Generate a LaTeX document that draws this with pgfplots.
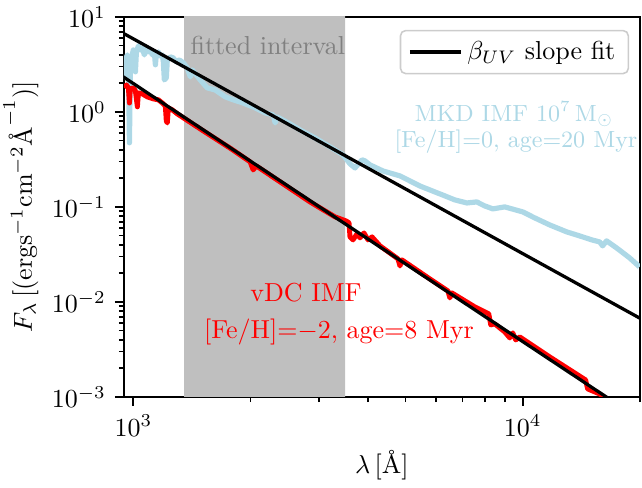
\documentclass[border=0pt]{standalone}
\usepackage{pgfplots}
\pgfplotsset{compat=1.18}
\definecolor{lightblue}{RGB}{173,216,230}

% Model spectra (wavelength in Angstrom, flux)
\pgfplotstableread{
lam F
950 2.20
954 3.53
965 3.98
971 3.36
977 0.472
982 2.64
988 3.70
1000 4.49
1012 2.64
1018 4.28
1030 4.95
1042 4.49
1054 4.72
1067 3.98
1080 4.72
1093 4.28
1105 4.49
1119 3.98
1132 4.28
1139 3.13
1145 3.98
1159 4.28
1173 3.89
1187 3.98
1194 3.36
1201 2.17
1215 2.28
1222 3.53
1244 3.79
1266 3.70
1289 3.36
1312 3.53
1344 3.28
1375 2.91
1400 2.34
1417 2.77
1485 2.17
1548 1.79
1623 1.70
1722 1.44
1805 1.34
1914 1.24
2056 1.102
2180 0.976
2286 0.930
2313 0.766
2340 0.886
2526 0.748
2680 0.646
2929 0.532
3201 0.428
3455 0.353
3601 0.284
3709 0.257
3866 0.313
3935 0.305
4052 0.277
4375 0.239
4838 0.212
5444 0.166
6127 0.137
6694 0.1185
7186 0.110
7622 0.1128
7990 0.1024
8378 0.0953
8990 0.100
10000 0.0886
10735 0.0766
11728 0.0646
12968 0.0546
14003 0.0495
15029 0.0450
15756 0.0428
16038 0.0389
16419 0.0439
17418 0.0370
18810 0.0291
19953 0.0234
}\mkdspec

\pgfplotstableread{
lam F
948 1.79
960 1.924
971 1.79
977 1.24
982 1.747
1000 1.79
1012 1.665
1024 1.13
1030 1.585
1054 1.547
1086 1.44
1125 1.37
1159 1.34
1187 1.24
1208 1.157
1215 0.804
1222 0.766
1230 1.102
1259 1.050
1297 0.953
1485 0.662
1784 0.408
1995 0.298
2031 0.245
2068 0.270
2382 0.1833
2843 0.1128
3296 0.0785
3518 0.0712
3580 0.0679
3601 0.0483
3666 0.0450
3754 0.0520
3820 0.0472
3911 0.0532
4005 0.0450
4101 0.0483
4300 0.0389
4780 0.0284
4838 0.0239
4894 0.0277
5773 0.01746
6424 0.01305
6499 0.01102
6577 0.01244
7534 0.00886
8181 0.00748
8278 0.00573
8476 0.00587
8990 0.00483
9262 0.00418
9427 0.00472
9596 0.00398
9825 0.00428
11728 0.002637
14504 0.001509
14678 0.001214
15756 0.001075
16713 0.000908
}\vdcspec

\begin{document}
\begin{tikzpicture}
\begin{axis}[
  scale only axis,
  width=198.5pt, height=146.2pt,
  xmode=log, ymode=log,
  xmin=946, xmax=20000, ymin=1e-3, ymax=10,
  axis line style={line width=0.8pt},
  tick style={line width=0.7pt, black},
  major tick length=3.5pt, minor tick length=2pt,
  tick align=outside, xtick pos=bottom, ytick pos=left,
  xtick={1000,10000},
  minor xtick={2000,3000,4000,5000,6000,7000,8000,9000,20000},
  ytick={1e-3,1e-2,1e-1,1,10},
  minor ytick={2e-3,3e-3,4e-3,5e-3,6e-3,7e-3,8e-3,9e-3,
               2e-2,3e-2,4e-2,5e-2,6e-2,7e-2,8e-2,9e-2,
               0.2,0.3,0.4,0.5,0.6,0.7,0.8,0.9,2,3,4,5,6,7,8,9},
  xlabel={$\lambda\,[\mbox{\AA}]$},
  ylabel={$F_\lambda\,[(\mathrm{ergs^{-1}cm^{-2}}\mbox{\AA}^{-1})]$},
  every axis x label/.style={at={(rel axis cs:0.5,0)}, yshift=-20.4pt, anchor=north, inner sep=0pt},
  every axis y label/.style={at={(rel axis cs:0,0.5)}, xshift=-32.7pt, rotate=90, anchor=south, inner sep=0pt},
  legend style={at={(rel axis cs:0.979,0.966)}, anchor=north east,
    draw=black!20, rounded corners=2pt, fill=white, fill opacity=0.8,
    text opacity=1, line width=0.6pt, inner xsep=3pt, inner ysep=2pt},
  legend cell align=left,
  legend image code/.code={\draw[#1] (0pt,0pt) -- (19.5pt,0pt);},
]
% fitting window
\addplot[draw=none, fill=black!25, forget plot]
  coordinates {(1350,1e-4) (3500,1e-4) (3500,100) (1350,100) (1350,1e-4)};

\addplot[lightblue, line width=2pt, line join=round, forget plot] table[x=lam, y=F] {\mkdspec};
\addplot[red, line width=1.9pt, line join=round, forget plot] table[x=lam, y=F] {\vdcspec};

% power-law fits
\addplot[black, line width=1.25pt] coordinates {(900,7.45) (20000,0.00673)};
\addlegendentry{$\beta_{UV}$ slope fit}
\addplot[black, line width=1.25pt, forget plot] coordinates {(900,2.647) (20000,0.000582)};

\node[anchor=base west, inner sep=0pt, text=black!50] at (rel axis cs:0.128,0.9) {fitted interval};
\node[anchor=base, inner sep=0pt, text=lightblue, font=\fontsize{9}{11}\selectfont]
  at (rel axis cs:0.7558,0.7237) {MKD IMF $10^7\,\mathrm{M}_\odot$};
\node[anchor=base, inner sep=0pt, text=lightblue, font=\fontsize{9}{11}\selectfont]
  at (rel axis cs:0.7597,0.6553) {[Fe/H]=0, age=20 Myr};
\node[anchor=base, inner sep=0pt, text=red] at (rel axis cs:0.3527,0.25) {vDC IMF};
\node[anchor=base, inner sep=0pt, text=red] at (rel axis cs:0.4167,0.1526) {[Fe/H]=$-2$, age=8 Myr};

\coordinate (bl) at (rel axis cs:0,0);
\coordinate (tr) at (rel axis cs:1,1);
\end{axis}
\pgfresetboundingbox
\path[use as bounding box] ([shift={(-47.7pt,-35pt)}]bl) rectangle ([shift={(0.8pt,6.5pt)}]tr);
\end{tikzpicture}
\end{document}
